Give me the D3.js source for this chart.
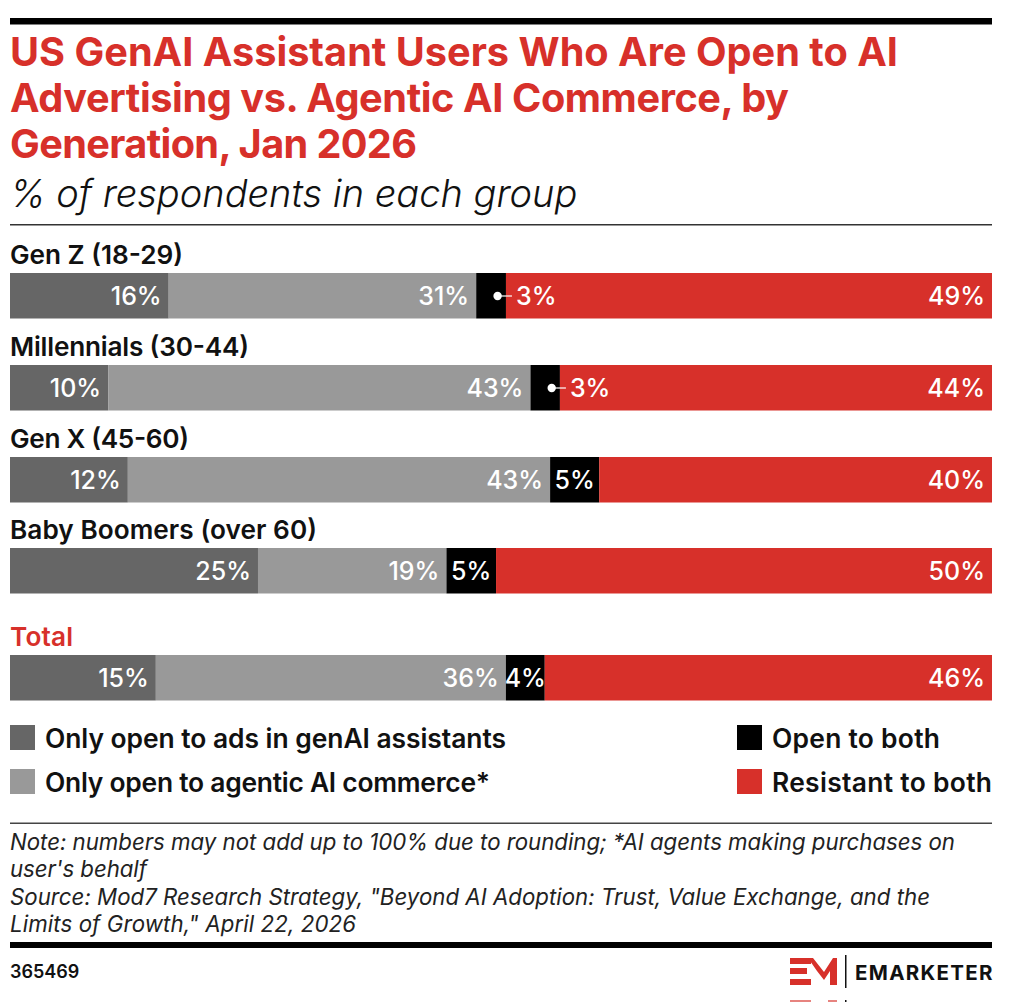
<!DOCTYPE html>
<html>
<head>
<meta charset="utf-8">
<script src="https://cdn.jsdelivr.net/npm/d3@7"></script>
<style>
  html, body { margin: 0; padding: 0; background: #fff; }
  svg { display: block; }
  text { font-family: Inter, sans-serif; }
</style>
</head>
<body>
<script>
/* chart values */
var categories = ["Gen Z (18-29)", "Millennials (30-44)", "Gen X (45-60)", "Baby Boomers (over 60)", "Total"];
var seriesNames = ["Only open to ads in genAI assistants", "Only open to agentic AI commerce*", "Open to both", "Resistant to both"];
var adsOnly = [16, 10, 12, 25, 15];
var agenticOnly = [31, 43, 43, 19, 36];
var openBoth = [3, 3, 5, 5, 4];
var resistant = [49, 44, 40, 50, 46];

var titleLines = ["US GenAI Assistant Users Who Are Open to AI", "Advertising vs. Agentic AI Commerce, by", "Generation, Jan 2026"];
var subtitle = "% of respondents in each group";
var noteLines = ["Note: numbers may not add up to 100% due to rounding; *AI agents making purchases on",
                 "user's behalf",
                 "Source: Mod7 Research Strategy, \"Beyond AI Adoption: Trust, Value Exchange, and the",
                 "Limits of Growth,\" April 22, 2026"];

var red = "#d7302a";
var colors = ["#666666", "#999999", "#000000", red];

/* text widths measured on the reference, the font is not quite the same */
var titleWidths = [888, 779, 407];
var rowLabelWidths = [173, 239, 179, 307, 63];
var legendWidths = [461, 445, 168, 220];
var noteWidths = [945, 137, 920, 346];

var svg = d3.select("body").append("svg").attr("width", 1025).attr("height", 1008);

/* rules */
function rule(y, h, c) {
  svg.append("rect").attr("x", 10).attr("y", y).attr("width", 982).attr("height", h).attr("fill", c);
}
rule(18, 6.5, "#000");
rule(224, 1.5, "#333");
rule(822.5, 1.5, "#444");
rule(942, 6, "#000");

/* title */
svg.selectAll("text.title").data(titleLines).enter().append("text")
   .attr("class", "title")
   .attr("x", 10)
   .attr("y", function(d, i) { return 66 + i * 46; })
   .attr("textLength", function(d, i) { return titleWidths[i]; })
   .attr("fill", red)
   .style("font-size", "39.7px")
   .style("font-weight", 700)
   .text(function(d) { return d; });

svg.append("text").attr("x", 10).attr("y", 207)
   .style("font-size", "38px").style("font-style", "italic").style("font-weight", 300)
   .attr("fill", "#111").text(subtitle);

/* bars */
var rowTop = d3.scaleOrdinal().domain(categories).range([273, 365, 457, 548, 655]);
var barHeight = 45.5;
var rows = categories.map(function(c, i) {
  return { name: c, values: [adsOnly[i], agenticOnly[i], openBoth[i], resistant[i]] };
});

rows.forEach(function(row, r) {
  var total = d3.sum(row.values);
  var x = d3.scaleLinear().domain([0, total]).range([10, 992]);
  var cum = d3.cumsum(row.values);
  var top = rowTop(row.name);
  var g = svg.append("g");

  svg.append("text").attr("x", 10).attr("y", top - 9.5)
     .attr("textLength", rowLabelWidths[r])
     .attr("fill", row.name == "Total" ? red : "#111")
     .style("font-size", "26.2px").style("font-weight", 600)
     .text(row.name);

  g.selectAll("rect").data(row.values).enter().append("rect")
   .attr("x", function(d, i) { return x(cum[i] - d); })
   .attr("y", top)
   .attr("width", function(d) { return x(d) - x(0); })
   .attr("height", barHeight)
   .attr("fill", function(d, i) { return colors[i]; });

  g.selectAll("text").data(row.values).enter().append("text")
   .attr("x", function(d, i) {
     if (i == 2 && d <= 3) { return x(cum[i]) + 10; }   /* too small, label sits in the red */
     if (i == 2) { return x(cum[i] - d / 2); }
     return x(cum[i]) - 7;
   })
   .attr("y", top + 31.5)
   .attr("text-anchor", function(d, i) {
     if (i == 2) { return d <= 3 ? "start" : "middle"; }
     return "end";
   })
   .attr("fill", "#fff")
   .style("font-size", "25px").style("font-weight", 500)
   .text(function(d) { return d + "%"; });

  /* leader for the small black segments */
  if (row.values[2] <= 3) {
    var cx = x(cum[2] - row.values[2] / 2) + 6.5;
    g.append("circle").attr("cx", cx).attr("cy", top + 23).attr("r", 4.2).attr("fill", "#fff");
    g.append("line").attr("x1", cx).attr("x2", x(cum[2]) + 6)
     .attr("y1", top + 23).attr("y2", top + 23)
     .attr("stroke", "#fff").attr("stroke-width", 1.2);
  }
});

/* legend */
var legendPos = [[10, 725], [10, 769], [737, 725], [737, 769]];
var legend = svg.selectAll("g.legend").data(seriesNames).enter().append("g")
   .attr("class", "legend")
   .attr("transform", function(d, i) { return "translate(" + legendPos[i][0] + "," + legendPos[i][1] + ")"; });
legend.append("rect").attr("width", 25).attr("height", 25)
   .attr("fill", function(d, i) { return colors[i]; });
legend.append("text").attr("x", 35).attr("y", 23)
   .attr("textLength", function(d, i) { return legendWidths[i]; })
   .attr("fill", "#111")
   .style("font-size", "26.4px").style("font-weight", 600)
   .text(function(d) { return d; });

/* notes */
svg.selectAll("text.note").data(noteLines).enter().append("text")
   .attr("class", "note")
   .attr("x", 10)
   .attr("y", function(d, i) { return 850 + i * 27.4; })
   .attr("textLength", function(d, i) { return noteWidths[i]; })
   .attr("fill", "#222")
   .style("font-size", "22.25px").style("font-style", "italic").style("font-weight", 400)
   .text(function(d) { return d; });

svg.append("text").attr("x", 10).attr("y", 978)
   .attr("fill", "#111").style("font-size", "18px").style("font-weight", 600).text("365469");

/* logo */
var logo = svg.append("g");
logo.append("path").attr("fill", red)
    .attr("d", "M790 958H811V964H790ZM790 968H807V974H790ZM790 979H811V985H790Z");
logo.append("path").attr("fill", red)
    .attr("d", "M808 958H813L824 972L833 958H837V985H830V971L824 980L817 971L808 958Z");
logo.append("rect").attr("x", 845).attr("y", 955).attr("width", 1.5).attr("height", 33).attr("fill", "#111");
logo.append("text").attr("x", 855).attr("y", 980)
    .attr("fill", "#111").style("font-size", "20.5px").style("font-weight", 700).style("letter-spacing", "1.3px")
    .text("EMARKETER");
/* top of the next logo, cut off at the edge of the shot */
logo.append("rect").attr("x", 790).attr("y", 1000).attr("width", 21).attr("height", 2).attr("fill", red).attr("opacity", 0.6);
logo.append("rect").attr("x", 828).attr("y", 1000).attr("width", 9).attr("height", 2).attr("fill", red).attr("opacity", 0.6);
logo.append("rect").attr("x", 845).attr("y", 1000).attr("width", 1.5).attr("height", 2).attr("fill", "#111");
</script>
</body>
</html>
